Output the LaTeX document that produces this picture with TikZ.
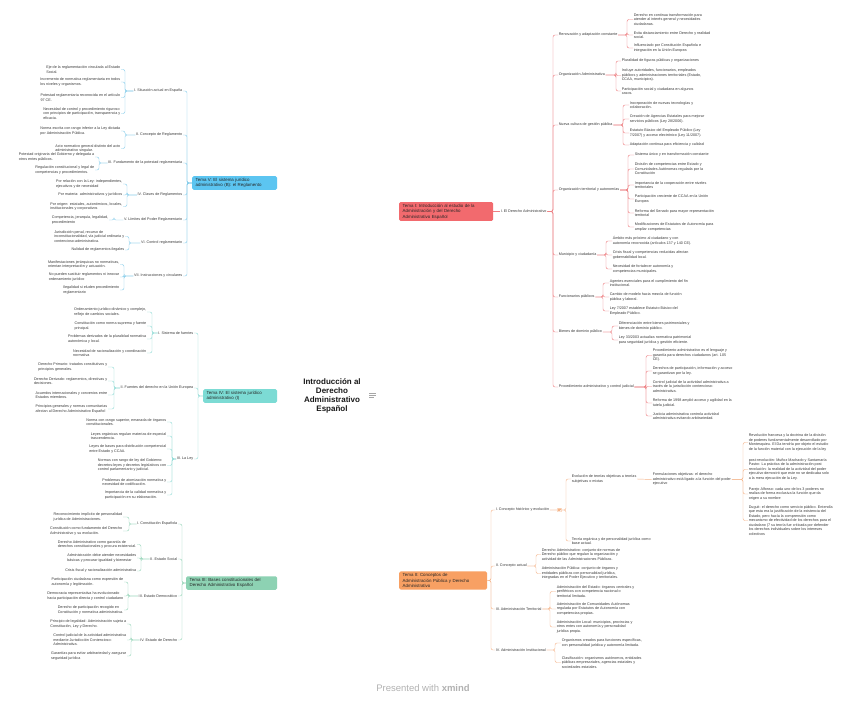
\documentclass[tikz,border=0pt]{standalone}
\usepackage{fontspec}
\setmainfont{Liberation Sans}
\usetikzlibrary{calc,backgrounds}
\definecolor{txt}{HTML}{3A3A3A}
\definecolor{lV}{HTML}{86CDEB}
\definecolor{fV}{HTML}{5CC5F1}
\definecolor{lI}{HTML}{EE7F82}
\definecolor{fI}{HTML}{F26A6E}
\definecolor{lIV}{HTML}{93DCD7}
\definecolor{fIV}{HTML}{7CDBD4}
\definecolor{lIII}{HTML}{96D5B9}
\definecolor{fIII}{HTML}{8DD2B3}
\definecolor{lII}{HTML}{F5B58A}
\definecolor{fII}{HTML}{F8A063}
\newcommand\brL[4]{\foreach \c in {#4}{\draw[#1] (#2.west) -- (#3) |- (\c.east);}}
\newcommand\brR[4]{\foreach \c in {#4}{\draw[#1] (#2.east) -- (#3) |- (\c.west);}}
\tikzset{
 lf/.style={font=\fontsize{3.7}{4.5}\selectfont, text=txt, align=left, inner sep=0.6pt},
 lfL/.style={lf, anchor=east},
 lfR/.style={lf, anchor=west},
 tema/.style={rounded corners=1.5pt, font=\fontsize{4.4}{5.4}\selectfont, align=left, inner xsep=3.5pt, inner ysep=2pt, text=black!85, anchor=west},
 cn/.style={line width=0.45pt, rounded corners=2pt},
 cV/.style={cn, draw=lV}, cI/.style={cn, draw=lI}, cIV/.style={cn, draw=lIV},
 cIII/.style={cn, draw=lIII}, cII/.style={cn, draw=lII},
 mainln/.style={line width=0.8pt},
}
\begin{document}
\begin{tikzpicture}[x=1pt,y=-1pt]
\useasboundingbox (0,0) rectangle (848,706);
\fill[white] (0,0) rectangle (848,706);

% central
\node[font=\bfseries\fontsize{8}{9}\selectfont, align=center, fill=white, inner sep=1pt, text=black!90] (C) at (332,396) {Introducción al\\Derecho\\Administrativo\\Español};
\draw[gray!70, line width=0.6pt] (369,393) -- (376,393) (369,395.3) -- (376,395.3) (369,397.6) -- (373.5,397.6);

% main topics
\node[tema, fill=fV, text width=78pt] (TV) at (192,183) {Tema V: El sistema jurídico\\administrativo (B): el Reglamento};
\node[tema, fill=fI, text width=87pt] (TI) at (399,211.5) {Tema I: Introducción al estudio de la\\Administración y del Derecho\\Administrativo Español};
\node[tema, fill=fIV, text width=67pt] (TIV) at (203,396) {Tema IV: El sistema jurídico\\administrativo (I)};
\node[tema, fill=fIII, text width=84pt] (TIII) at (186,583) {Tema III: Bases constitucionales del\\Derecho Administrativo Español};
\node[tema, fill=fII, text width=81pt] (TII) at (399,580.5) {Tema II: Conceptos de\\Administración Pública y Derecho\\Administrativo};

\begin{pgfonlayer}{background}
\draw[mainln, draw=lV] (TV.east) .. controls (315,183) and (334,280) .. ([xshift=2pt]C.center);
\draw[mainln, draw=lI] (TI.west) .. controls (362,211) and (342,290) .. ([xshift=10pt]C.center);
\draw[mainln, draw=lIII] (TIII.east) .. controls (315,583) and (334,510) .. ([xshift=2pt]C.center);
\draw[mainln, draw=lII] (TII.west) .. controls (362,580) and (342,500) .. ([xshift=10pt]C.center);
\draw[mainln, draw=lIV] (TIV.east) -- (C.center);
\end{pgfonlayer}

% ---------------- Tema V ----------------
\node[lfL] (v1) at (183,91) {I. Situación actual en España};
\node[lfL] (v2) at (183,135) {II. Concepto de Reglamento};
\node[lfL] (v3) at (183,163) {III. Fundamento de la potestad reglamentaria};
\node[lfL] (v4) at (183,195) {IV. Clases de Reglamentos};
\node[lfL] (v5) at (183,220) {V. Límites del Poder Reglamentario};
\node[lfL] (v6) at (183,243) {VI. Control reglamentario};
\node[lfL] (v7) at (183,276) {VII. Instrucciones y circulares};
\brL{cV}{TV}{187,183}{v1,v2,v3,v4,v5,v6,v7}

\node[lfL] (v1a) at (121,69.5) {Eje de la reglamentación vinculada al Estado\\Social.};
\node[lfL] (v1b) at (121,82) {Incremento de normativa reglamentaria en todos\\los niveles y organismos.};
\node[lfL] (v1c) at (121,97.5) {Potestad reglamentaria reconocida en el artículo\\97 CE.};
\node[lfL] (v1d) at (121,113.5) {Necesidad de control y procedimiento riguroso\\con principios de participación, transparencia y\\eficacia.};
\brL{cV}{v1}{125,91}{v1a,v1b,v1c,v1d}

\node[lfL] (v2a) at (121,131) {Norma escrita con rango inferior a la Ley dictada\\por Administración Pública.};
\node[lfL] (v2b) at (121,148.5) {Acto normativo general distinto del acto\\administrativo singular.};
\brL{cV}{v2}{125,135}{v2a,v2b}

\node[lfL] (v3a) at (95,157) {Potestad originaria del Gobierno y delegada a\\otros entes públicos.};
\node[lfL] (v3b) at (95,170) {Regulación constitucional y legal de\\competencias y procedimientos.};
\brL{cV}{v3}{99,163}{v3a,v3b}

\node[lfL] (v4a) at (123,184) {Por relación con la Ley: independientes,\\ejecutivos y de necesidad};
\node[lfL] (v4b) at (123,195) {Por materia: administrativos y jurídicos};
\node[lfL] (v4c) at (123,206.5) {Por origen: estatales, autonómicos, locales,\\institucionales y corporativos};
\brL{cV}{v4}{127,195}{v4a,v4b,v4c}

\node[lfL] (v5a) at (109,220) {Competencia, jerarquía, legalidad,\\procedimiento};
\brL{cV}{v5}{114,220}{v5a}

\node[lfL] (v6a) at (125,236.5) {Jurisdicción penal, recurso de\\inconstitucionalidad, vía judicial ordinaria y\\contencioso-administrativa.};
\node[lfL] (v6b) at (125,250) {Nulidad de reglamentos ilegales};
\brL{cV}{v6}{129,243}{v6a,v6b}

\node[lfL] (v7a) at (120,264.5) {Manifestaciones jerárquicas no normativas,\\orientan interpretación y actuación.};
\node[lfL] (v7b) at (120,277) {No pueden sustituir reglamentos ni innovar\\ordenamiento jurídico};
\node[lfL] (v7c) at (120,290) {Ilegalidad si eluden procedimiento\\reglamentario};
\brL{cV}{v7}{124,276}{v7a,v7b,v7c}

% ---------------- Tema IV ----------------
\node[lfL] (f1) at (194,333) {I. Sistema de fuentes};
\node[lfL] (f2) at (194,388) {II. Fuentes del derecho en la Unión Europea};
\node[lfL] (f3) at (194,459) {III. La Ley};
\brL{cIV}{TIV}{198,396}{f1,f2,f3}

\node[lfL] (f1a) at (147,312) {Ordenamiento jurídico dinámico y complejo,\\reflejo de cambios sociales.};
\node[lfL] (f1b) at (147,326) {Constitución como norma suprema y fuente\\principal.};
\node[lfL] (f1c) at (147,339) {Problemas derivados de la pluralidad normativa\\autonómica y local.};
\node[lfL] (f1d) at (147,353) {Necesidad de racionalización y coordinación\\normativa};
\brL{cIV}{f1}{152,333}{f1a,f1b,f1c,f1d}

\node[lfL] (f2a) at (108,367) {Derecho Primario: tratados constitutivos y\\principios generales.};
\node[lfL] (f2b) at (108,381) {Derecho Derivado: reglamentos, directivas y\\decisiones.};
\node[lfL] (f2c) at (108,395) {Acuerdos internacionales y convenios entre\\Estados miembros.};
\node[lfL] (f2d) at (108,409) {Principios generales y normas comunitarias\\afectan al Derecho Administrativo Español};
\brL{cIV}{f2}{114,388}{f2a,f2b,f2c,f2d}

\node[lfL] (f3a) at (167,422) {Norma con rango superior, emanada de órganos\\constitucionales.};
\node[lfL] (f3b) at (167,436) {Leyes orgánicas regulan materias de especial\\trascendencia.};
\node[lfL] (f3c) at (167,449) {Leyes de bases para distribución competencial\\entre Estado y CCAA.};
\node[lfL] (f3d) at (167,465.5) {Normas con rango de ley del Gobierno:\\decretos-leyes y decretos legislativos con\\control parlamentario y judicial.};
\node[lfL] (f3e) at (167,482) {Problemas de atomización normativa y\\necesidad de codificación.};
\node[lfL] (f3f) at (167,495) {Importancia de la calidad normativa y\\participación en su elaboración.};
\brL{cIV}{f3}{172,459}{f3a,f3b,f3c,f3d,f3e,f3f}

% ---------------- Tema III ----------------
\node[lfL] (g1) at (178,524) {I. Constitución Española};
\node[lfL] (g2) at (178,559) {II. Estado Social};
\node[lfL] (g3) at (178,596) {III. Estado Democrático};
\node[lfL] (g4) at (178,640) {IV. Estado de Derecho};
\brL{cIII}{TIII}{182,583}{g1,g2,g3,g4}

\node[lfL] (g1a) at (123,517) {Reconocimiento implícito de personalidad\\jurídica de Administraciones.};
\node[lfL] (g1b) at (123,531) {Constitución como fundamento del Derecho\\Administrativo y su evolución.};
\brL{cIII}{g1}{129,524}{g1a,g1b}

\node[lfL] (g2a) at (137,544.5) {Derecho Administrativo como garantía de\\derechos constitucionales y procura existencial.};
\node[lfL] (g2b) at (137,558) {Administración debe atender necesidades\\básicas y procurar igualdad y bienestar};
\node[lfL] (g2c) at (137,571) {Crisis fiscal y racionalización administrativa};
\brL{cIII}{g2}{141,559}{g2a,g2b,g2c}

\node[lfL] (g3a) at (124,582) {Participación ciudadana como expresión de\\autonomía y legitimación.};
\node[lfL] (g3b) at (124,596) {Democracia representativa ha evolucionado\\hacia participación directa y control ciudadano};
\node[lfL] (g3c) at (124,610) {Derecho de participación recogido en\\Constitución y normativa administrativa.};
\brL{cIII}{g3}{128,596}{g3a,g3b,g3c}

\node[lfL] (g4a) at (127,624) {Principio de legalidad: Administración sujeta a\\Constitución, Ley y Derecho.};
\node[lfL] (g4b) at (127,640) {Control judicial de la actividad administrativa\\mediante Jurisdicción Contencioso-\\Administrativa.};
\node[lfL] (g4c) at (127,656) {Garantías para evitar arbitrariedad y asegurar\\seguridad jurídica};
\brL{cIII}{g4}{131,640}{g4a,g4b,g4c}

% ---------------- Tema I ----------------
\node[lfR] (r0) at (500,211.5) {I. El Derecho Administrativo};
\draw[cI] (TI.east) -- (r0.west);

\node[lfR] (r1) at (558,35) {Renovación y adaptación constante};
\node[lfR] (r2) at (558,75) {Organización Administrativa};
\node[lfR] (r3) at (558,125) {Nueva cultura de gestión pública};
\node[lfR] (r4) at (558,190) {Organización territorial y autonomías};
\node[lfR] (r5) at (558,255) {Municipio y ciudadanía};
\node[lfR] (r6) at (558,297) {Funcionarios públicos};
\node[lfR] (r7) at (558,332) {Bienes de dominio público};
\node[lfR] (r8) at (558,387) {Procedimiento administrativo y control judicial};
\brR{cI}{r0}{553,211.5}{r1,r2,r3,r4,r5,r6,r7,r8}

\node[lfR] (r1a) at (633,19.5) {Derecho en continua transformación para\\atender al interés general y necesidades\\ciudadanas.};
\node[lfR] (r1b) at (633,35) {Evita distanciamiento entre Derecho y realidad\\social.};
\node[lfR] (r1c) at (633,48) {Influenciado por Constitución Española e\\integración en la Unión Europea};
\brR{cI}{r1}{627,35}{r1a,r1b,r1c}

\node[lfR] (r2a) at (621,61) {Pluralidad de figuras públicas y organizaciones};
\node[lfR] (r2b) at (621,75.5) {Incluye autoridades, funcionarios, empleados\\públicos y administraciones territoriales (Estado,\\CCAA, municipios).};
\node[lfR] (r2c) at (621,91) {Participación social y ciudadana en algunos\\casos.};
\brR{cI}{r2}{616,75}{r2a,r2b,r2c}

\node[lfR] (r3a) at (629,105) {Incorporación de nuevas tecnologías y\\colaboración.};
\node[lfR] (r3b) at (629,119) {Creación de Agencias Estatales para mejorar\\servicios públicos (Ley 28/2006).};
\node[lfR] (r3c) at (629,133) {Estatuto Básico del Empleado Público (Ley\\7/2007) y acceso electrónico (Ley 11/2007).};
\node[lfR] (r3d) at (629,145) {Adaptación continua para eficiencia y calidad};
\brR{cI}{r3}{623,125}{r3a,r3b,r3c,r3d}

\node[lfR] (r4a) at (634,155) {Sistema único y en transformación constante};
\node[lfR] (r4b) at (634,169) {División de competencias entre Estado y\\Comunidades Autónomas regulada por la\\Constitución};
\node[lfR] (r4c) at (634,185) {Importancia de la cooperación entre niveles\\territoriales};
\node[lfR] (r4d) at (634,199) {Participación creciente de CCAA en la Unión\\Europea};
\node[lfR] (r4e) at (634,213) {Reforma del Senado para mayor representación\\territorial};
\node[lfR] (r4f) at (634,227) {Modificaciones de Estatutos de Autonomía para\\ampliar competencias};
\brR{cI}{r4}{628,190}{r4a,r4b,r4c,r4d,r4e,r4f}

\node[lfR] (r5a) at (612,241) {Ámbito más próximo al ciudadano y con\\autonomía reconocida (artículos 137 y 140 CE).};
\node[lfR] (r5b) at (612,255) {Crisis fiscal y competencias reducidas afectan\\gobernabilidad local.};
\node[lfR] (r5c) at (612,269) {Necesidad de fortalecer autonomía y\\competencias municipales.};
\brR{cI}{r5}{606,255}{r5a,r5b,r5c}

\node[lfR] (r6a) at (609,283) {Agentes esenciales para el cumplimiento del fin\\institucional.};
\node[lfR] (r6b) at (609,297) {Cambio de modelo hacia mezcla de función\\pública y laboral.};
\node[lfR] (r6c) at (609,311) {Ley 7/2007 establece Estatuto Básico del\\Empleado Público.};
\brR{cI}{r6}{603,297}{r6a,r6b,r6c}

\node[lfR] (r7a) at (618,326) {Diferenciación entre bienes patrimoniales y\\bienes de dominio público.};
\node[lfR] (r7b) at (618,340) {Ley 33/2003 actualiza normativa patrimonial\\para seguridad jurídica y gestión eficiente.};
\brR{cI}{r7}{612,332}{r7a,r7b}

\node[lfR] (r8a) at (652,355.5) {Procedimiento administrativo es el lenguaje y\\garantía para derechos ciudadanos (art. 105\\CE).};
\node[lfR] (r8b) at (652,371) {Derechos de participación, información y acceso\\se garantizan por la ley.};
\node[lfR] (r8c) at (652,386.5) {Control judicial de la actividad administrativa a\\través de la jurisdicción contencioso-\\administrativa.};
\node[lfR] (r8d) at (652,403) {Reforma de 1998 amplió acceso y agilidad en la\\tutela judicial.};
\node[lfR] (r8e) at (652,416) {Justicia administrativa controla actividad\\administrativa evitando arbitrariedad.};
\brR{cI}{r8}{646,387}{r8a,r8b,r8c,r8d,r8e}

% ---------------- Tema II ----------------
\node[lfR] (o1) at (495,510) {I. Concepto histórico y evolución};
\node[lfR] (o2) at (495,566) {II. Concepto actual};
\node[lfR] (o3) at (495,609) {III. Administración Territorial};
\node[lfR] (o4) at (495,650) {IV. Administración Institucional};
\brR{cII}{TII}{491,580.5}{o1,o2,o3,o4}
\draw[lII, line width=0.4pt, rounded corners=0.4pt] (557.5,508.3) rectangle (561.5,511.7);
\draw[lII, line width=0.3pt] (558.3,509.4) -- (560.7,509.4) (558.3,510.6) -- (560.2,510.6);

\node[lfR] (o1a) at (571,479) {Evolución de teorías objetivas a teorías\\subjetivas o mixtas};
\node[lfR] (o1b) at (571,541) {Teoría orgánica y de personalidad jurídica como\\base actual.};
\brR{cII}{o1}{566,510}{o1a,o1b}

\node[lfR] (o1x) at (652,479.5) {Formulaciones objetivas: el derecho\\administrativo está ligado a la función del poder\\ejecutivo};
\draw[cII] (o1a.east) -- (o1x.west);

\node[lfR] (o1x1) at (748,442.5) {Revolución francesa y la doctrina de la división\\de poderes fundamentalmente desarrollado por\\Montesquieu. El Da tendría por objeto el estudio\\de la función material con la ejecución de la ley};
\node[lfR] (o1x2) at (748,469.5) {post-revolución: Muñoz Machado y Santamaría\\Pastor. La práctica de la administración post\\revolución: la realidad de la actividad del poder\\ejecutivo demostró que este no se dedicaba solo\\a la mera ejecución de la Ley.};
\node[lfR] (o1x3) at (748,494) {Parejo Alfonso: cada uno de los 3 poderes no\\realiza de forma exclusiva la función que da\\origen a su nombre};
\node[lfR] (o1x4) at (748,520.5) {Duguit: el derecho como servicio público. Entendía\\que esta era la justificación de la existencia del\\Estado, pero hacía la comprensión como\\mecanismo de efectividad de los derechos para el\\ciudadano (7 su teoría fue criticada por defender\\los derechos individuales sobre los intereses\\colectivos};
\brR{cII}{o1x}{743,479.5}{o1x1,o1x2,o1x3,o1x4}

\node[lfR] (o2a) at (541,554.5) {Derecho Administrativo: conjunto de normas de\\Derecho público que regulan la organización y\\actividad de las Administraciones Públicas.};
\node[lfR] (o2b) at (541,573.5) {Administración Pública: conjunto de órganos y\\entidades públicas con personalidad jurídica,\\integradas en el Poder Ejecutivo y territoriales.};
\brR{cII}{o2}{536,566}{o2a,o2b}

\node[lfR] (o3a) at (556,591.5) {Administración del Estado: órganos centrales y\\periféricos con competencia nacional o\\territorial limitada.};
\node[lfR] (o3b) at (556,609) {Administración de Comunidades Autónomas\\regulada por Estatutos de Autonomía con\\competencias propias.};
\node[lfR] (o3c) at (556,627) {Administración Local: municipios, provincias y\\otros entes con autonomía y personalidad\\jurídica propia.};
\brR{cII}{o3}{550,609}{o3a,o3b,o3c}

\node[lfR] (o4a) at (561,643) {Organismos creados para funciones específicas,\\con personalidad jurídica y autonomía limitada.};
\node[lfR] (o4b) at (561,662.5) {Clasificación: organismos autónomos, entidades\\públicas empresariales, agencias estatales y\\sociedades estatales.};
\brR{cII}{o4}{555,650}{o4a,o4b}

% footer
\node[font=\fontsize{9.5}{11}\selectfont, text=black!30] (foot) at (423,688) {Presented with \textbf{xmind}};
\end{tikzpicture}
\end{document}
